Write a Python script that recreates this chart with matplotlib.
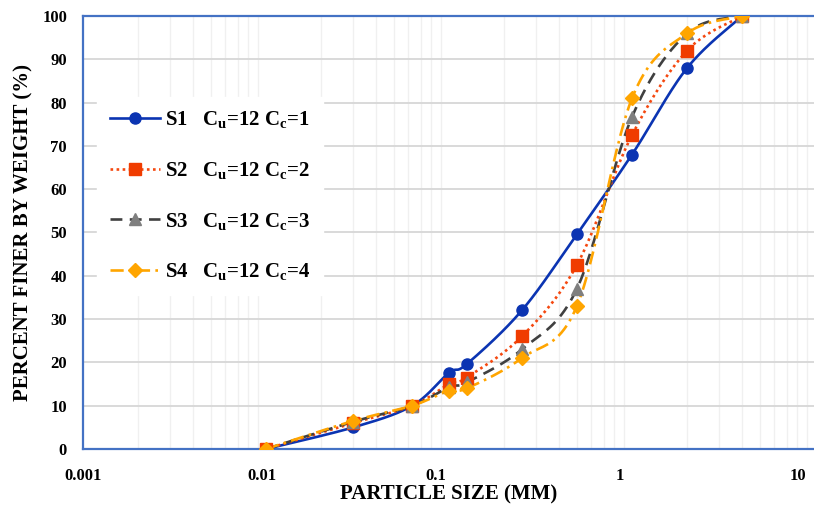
import numpy as np
import matplotlib
matplotlib.use("Agg")
import matplotlib.pyplot as plt
from matplotlib.ticker import LogLocator, NullFormatter, FixedLocator
from matplotlib.transforms import ScaledTranslation

# Sieve sizes (mm) and percent passing for the four gradations
sizes = [0.01, 0.03, 0.063, 0.1, 0.125, 0.25, 0.5, 1, 2, 4]
s1 = [0, 5, 10, 17.6, 19.6, 32, 49.6, 68, 88, 100]
s2 = [0, 6, 10, 15, 16.5, 26, 42.5, 72.5, 92, 100]
s3 = [0, 6.3, 10, 14.3, 15.4, 23, 37, 76.7, 96, 100]
s4 = [0, 6.5, 10, 13.5, 14, 21, 33, 81, 96, 100]

series_names = ["S1", "S2", "S3", "S4"]
cc_values = [1, 2, 3, 4]
cu_value = 12

x_ticks = [0.001, 0.01, 0.1, 1, 10]
x_tick_labels = ["0.001", "0.01", "0.1", "1", "10"]
y_ticks = list(range(0, 101, 10))

SERIF = "Liberation Serif"
plt.rcParams["font.family"] = [SERIF, "DejaVu Serif"]
plt.rcParams["font.weight"] = "bold"
plt.rcParams["mathtext.default"] = "regular"

W, H = 814, 511
fig = plt.figure(figsize=(W / 100, H / 100), dpi=100)
ax_left, ax_right, ax_top, ax_bot = 83, 815, 16, 449
ax = fig.add_axes([ax_left / W, 1 - ax_bot / H,
                   (ax_right - ax_left) / W, (ax_bot - ax_top) / H])
ax.set_xscale("log")
ax.set_xlim(0.001, 10)
ax.set_ylim(0, 100)

px_per_decade = (ax_right - ax_left) / 4.0
px_per_unit = (ax_bot - ax_top) / 100.0


def smooth(xs, ys, n=40):
    """Excel-like smoothed line: Catmull-Rom Bezier in screen space."""
    u = np.log10(np.asarray(xs, float)) * px_per_decade
    v = np.asarray(ys, float) * px_per_unit
    p = np.column_stack([u, v])
    p = np.vstack([p[0], p, p[-1]])
    t = np.linspace(0, 1, n)[:, None]
    out = []
    for i in range(1, len(p) - 2):
        p0, p1, p2, p3 = p[i - 1], p[i], p[i + 1], p[i + 2]
        c1 = p1 + (p2 - p0) / 6.0
        c2 = p2 - (p3 - p1) / 6.0
        seg = ((1 - t) ** 3) * p1 + 3 * ((1 - t) ** 2) * t * c1 \
            + 3 * (1 - t) * t ** 2 * c2 + t ** 3 * p2
        out.append(seg if i == 1 else seg[1:])
    out = np.vstack(out)
    return 10 ** (out[:, 0] / px_per_decade), out[:, 1] / px_per_unit


styles = [
    dict(color="#0B34B2", ls="-", marker="o", mfc="#0B34B2", mec="#0B34B2", ms=8),
    dict(color="#F5480F", ls=(0, (1, 1.3)), marker="s", mfc="#F03C00", mec="#F03C00", ms=8),
    dict(color="#404040", ls=(0, (4.5, 2.8)), marker="^", mfc="#7F7F7F", mec="#7F7F7F", ms=8),
    dict(color="#FFA500", ls=(0, (5, 2, 1, 2)), marker="D", mfc="#FFA500", mec="#FFA500", ms=7),
]

handles = []
for name, cc, ys, st in zip(series_names, cc_values, [s1, s2, s3, s4], styles):
    sx, sy = smooth(sizes, ys)
    ax.plot(sx, sy, color=st["color"], ls=st["ls"], lw=1.9, zorder=3)
    ax.plot(sizes, ys, ls="none", marker=st["marker"], mfc=st["mfc"],
            mec=st["mec"], ms=st["ms"], zorder=4)
    h, = ax.plot([], [], color=st["color"], ls=st["ls"], lw=1.9,
                 marker=st["marker"], mfc=st["mfc"], mec=st["mec"], ms=st["ms"])
    h.set_label(f"{name}   C$_{{u}}$={cu_value} C$_{{c}}$={cc}")
    handles.append(h)

# grid: light horizontal majors, very faint vertical minors
ax.set_yticks(y_ticks)
ax.yaxis.grid(True, color="#D9D9D9", lw=1.4, zorder=0)
ax.xaxis.set_major_locator(FixedLocator(x_ticks))
ax.set_xticklabels(x_tick_labels)
ax.xaxis.set_minor_locator(LogLocator(base=10, subs=np.arange(2, 10)))
ax.xaxis.set_minor_formatter(NullFormatter())
ax.xaxis.grid(True, which="minor", color="#F0F0F0", lw=1.0, zorder=0)
ax.xaxis.grid(False, which="major")
ax.set_axisbelow(True)

for side in ["left", "bottom", "top"]:
    ax.spines[side].set_color("#4472C4")
    ax.spines[side].set_linewidth(1.6)
ax.spines["right"].set_visible(False)

ax.tick_params(axis="both", which="both", length=0)
ax.tick_params(axis="y", pad=11.5, labelsize=12)
ax.tick_params(axis="x", pad=13.5, labelsize=12)
for lbl in ax.get_xticklabels() + ax.get_yticklabels():
    lbl.set_fontweight("bold")

# nudge x tick labels to their printed positions
label_shift_px = [0, -4, -13, -12, -17]
for tick, dx in zip(ax.xaxis.get_major_ticks(), label_shift_px):
    tick.label1.set_transform(tick.label1.get_transform()
                              + ScaledTranslation(dx / 100, 0, fig.dpi_scale_trans))

ax.set_xlabel("PARTICLE SIZE (MM)", fontsize=15, fontweight="bold", va="center")
ax.xaxis.set_label_coords(0.5, -(494 - ax_bot) / (ax_bot - ax_top))
ax.set_ylabel("PERCENT FINER BY WEIGHT (%)", fontsize=15, fontweight="bold", va="center")
ax.yaxis.set_label_coords(-(ax_left - 23) / (ax_right - ax_left), 0.5)

leg = ax.legend(handles=handles, loc="upper left",
                bbox_to_anchor=(97 / W, 1 - 97 / H), bbox_transform=fig.transFigure,
                borderaxespad=0, frameon=True, fancybox=False, framealpha=1,
                facecolor="white", edgecolor="white",
                handlelength=2.4, handletextpad=0.25, labelspacing=1.42,
                borderpad=0.6, prop={"weight": "bold", "size": 15})
leg.set_zorder(5)

fig.savefig("out.png", dpi=100)
